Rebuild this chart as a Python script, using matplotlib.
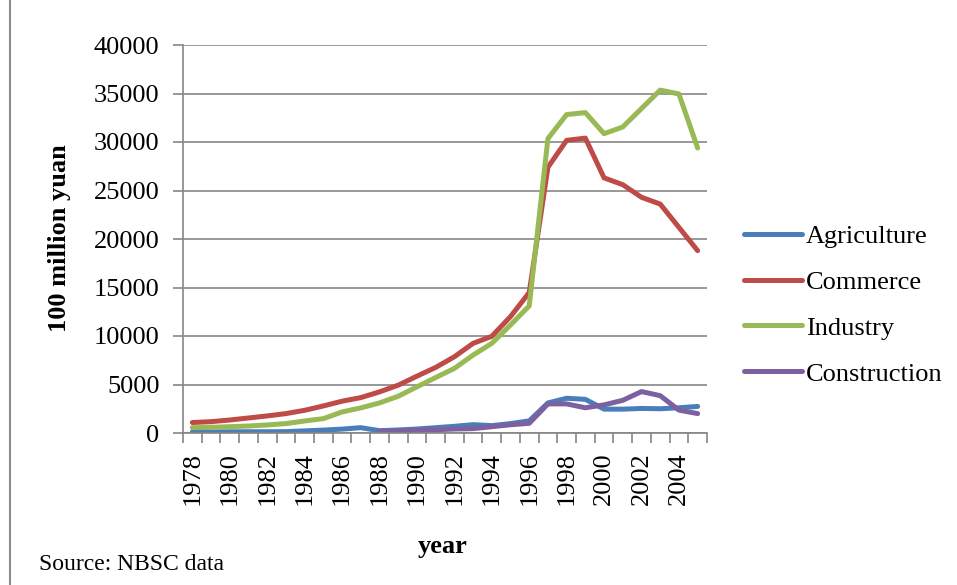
import numpy as np
import matplotlib
matplotlib.use('Agg')
import matplotlib.pyplot as plt
from matplotlib.patches import Rectangle

plt.rcParams['font.family'] = ['Liberation Serif', 'DejaVu Serif']

years = list(range(1978, 2006))
agriculture = [100, 110, 120, 130, 130, 140, 220, 300, 400, 550, 240, 310, 410, 550,
               690, 860, 760, 970, 1250, 3100, 3580, 3470, 2460, 2460, 2530, 2500, 2600, 2740]
commerce = [1080, 1170, 1340, 1550, 1760, 2000, 2340, 2790, 3280, 3650, 4240, 4930, 5860, 6760,
            7860, 9240, 9970, 12000, 14480, 27400, 30170, 30400, 26300, 25600, 24300, 23600, 21200, 18800]
industry = [550, 590, 650, 720, 830, 970, 1240, 1480, 2170, 2590, 3100, 3790, 4760, 5720,
            6660, 8030, 9240, 11140, 13100, 30350, 32830, 33030, 30860, 31550, 33450, 35350, 34950, 29380]
construction = [np.nan] * 10 + [170, 200, 280, 340, 410, 450, 650, 850, 1000, 3000,
                                3000, 2600, 2900, 3370, 4270, 3850, 2360, 2000]

names = ['Agriculture', 'Commerce', 'Industry', 'Construction']
colors = ['#4A7EBB', '#BE4B48', '#98B954', '#7D60A0']
grey = '#868686'
fs = 19

fig = plt.figure(figsize=(9.57, 5.85), dpi=100)
ax = fig.add_axes([183 / 957, 1 - 433 / 585, (707 - 183) / 957, (433 - 45) / 585])

x = np.arange(len(years))
for vals, name, c in zip([agriculture, commerce, industry, construction], names, colors):
    ax.plot(x, vals, color=c, linewidth=3.6, label=name, solid_capstyle='round')

ax.set_xlim(-0.5, len(years) - 0.5)
ax.set_ylim(0, 40000)
ax.set_yticks(range(0, 40001, 5000))
ax.yaxis.grid(True, color=grey, linewidth=1.2)
ax.set_axisbelow(True)

# labels every other year, tick marks between categories
ax.set_xticks(x[::2])
ax.set_xticklabels([str(y) for y in years[::2]], rotation=90)
ax.set_xticks(np.arange(-0.5, len(years), 1), minor=True)
ax.tick_params(axis='x', which='major', length=0, pad=14, labelsize=fs)
ax.tick_params(axis='x', which='minor', length=7, width=1.2, color=grey, direction='out')
ax.tick_params(axis='y', length=7, width=1.2, color=grey, pad=10, labelsize=fs)

for s in ['top', 'right']:
    ax.spines[s].set_visible(False)
for s in ['left', 'bottom']:
    ax.spines[s].set_color(grey)
    ax.spines[s].set_linewidth(1.2)

fig.text(60 / 957, 1 - 238 / 585, '100 million yuan', rotation=90, ha='center', va='center',
         fontsize=fs, fontweight='bold')
fig.text(443 / 957, 1 - 546 / 585, 'year', ha='center', va='center', fontsize=fs, fontweight='bold')
fig.text(39 / 957, 1 - 565 / 585, 'Source: NBSC data', ha='left', va='center', fontsize=17)

ax.legend(loc='center left', bbox_to_anchor=(744 / 957, 1 - 305 / 585), bbox_transform=fig.transFigure,
          frameon=False, fontsize=fs, handlelength=2.2, handletextpad=0.15, labelspacing=0.85,
          borderaxespad=0, borderpad=0)

# outer chart border
fig.patches.append(Rectangle((9.5 / 957, -0.2), 1.2, 1.2 + (1 - 15 / 585), fill=False,
                             edgecolor='#8c8c8c', linewidth=1.5, transform=fig.transFigure))

fig.savefig('out.png', dpi=100)
